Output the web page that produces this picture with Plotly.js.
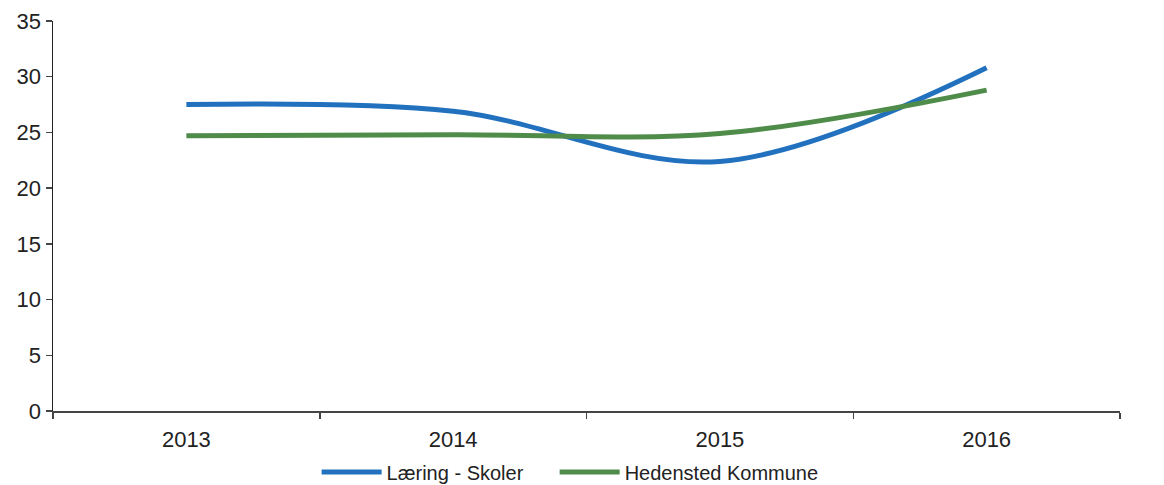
<!DOCTYPE html>
<html>
<head>
<meta charset="utf-8">
<script src="https://cdn.plot.ly/plotly-3.0.1.min.js"></script>
<style>html,body{margin:0;padding:0;background:#fff;}#chart{width:1164px;height:485px;}</style>
</head>
<body>
<div id="chart"></div>
<script>
const years = ["2013", "2014", "2015", "2016"];
const laeringSkoler = [27.5, 26.9, 22.4, 30.8];
const hedenstedKommune = [24.7, 24.8, 24.9, 28.8];
const yTicks = [0, 5, 10, 15, 20, 25, 30, 35];

const traces = [
  {
    x: years, y: laeringSkoler, name: "Læring - Skoler", type: "scatter", mode: "lines",
    legend: "legend",
    line: {color: "#2271BE", width: 5, shape: "spline", smoothing: 1}
  },
  {
    x: years, y: hedenstedKommune, name: "Hedensted Kommune", type: "scatter", mode: "lines",
    legend: "legend2",
    line: {color: "#4F8C4A", width: 5, shape: "spline", smoothing: 1}
  }
];

const legendBase = {
  orientation: "h", xref: "container", yref: "container",
  xanchor: "left", y: 0.027, yanchor: "middle",
  font: {size: 20, color: "#222222"}, itemwidth: 60,
  bgcolor: "rgba(0,0,0,0)"
};

const layout = {
  width: 1164, height: 485,
  margin: {l: 53, r: 44, t: 21, b: 74, autoexpand: false},
  paper_bgcolor: "#ffffff", plot_bgcolor: "#ffffff",
  font: {family: "Liberation Sans, Arial, sans-serif", color: "#222222", size: 20},
  showlegend: true,
  legend: Object.assign({}, legendBase, {x: 0.272}),
  legend2: Object.assign({}, legendBase, {x: 0.4765}),
  xaxis: {
    type: "category", categoryorder: "array", categoryarray: years,
    range: [-0.5, 3.5], showgrid: false, zeroline: false,
    showline: true, linecolor: "#444444", linewidth: 1.5,
    ticks: "outside", tickson: "boundaries", ticklen: 6, tickcolor: "#444444", tickwidth: 1.5,
    ticklabelstandoff: 8,
    tickfont: {size: 22, color: "#222222"}
  },
  yaxis: {
    range: [0, 35], tickvals: yTicks, ticktext: yTicks.map(String),
    showgrid: false, zeroline: false,
    showline: true, linecolor: "#222222", linewidth: 1.5,
    ticks: "outside", ticklen: 6, tickcolor: "#444444", tickwidth: 1.5,
    tickfont: {size: 22, color: "#222222"}
  }
};

Plotly.newPlot("chart", traces, layout, {displayModeBar: false, staticPlot: true});
</script>
</body>
</html>
